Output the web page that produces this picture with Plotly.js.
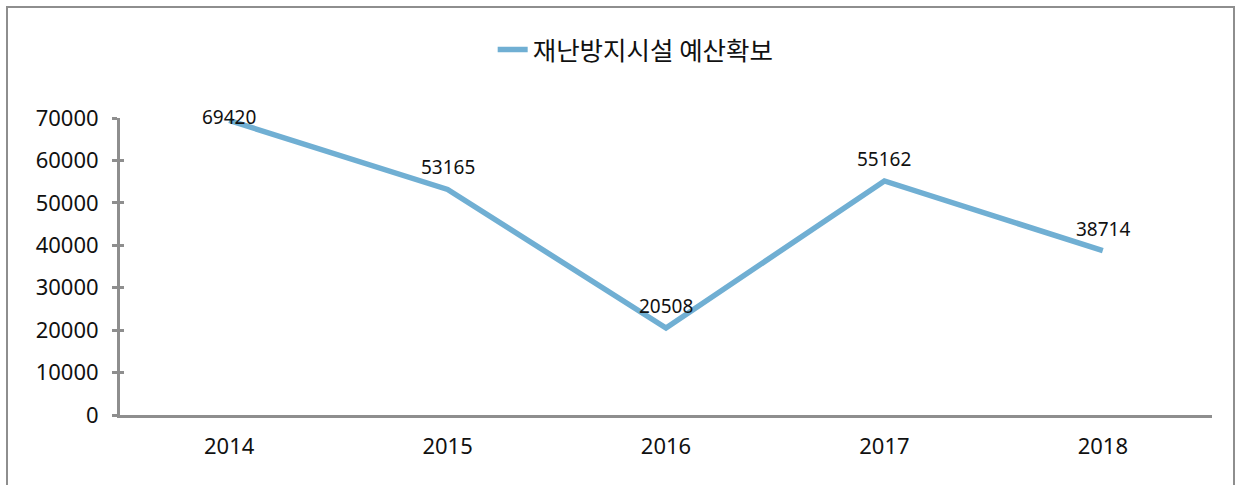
<!DOCTYPE html>
<html>
<head>
<meta charset="utf-8">
<script src="https://cdn.plot.ly/plotly-3.0.1.min.js"></script>
<style>
  html, body { margin: 0; padding: 0; background: #ffffff; overflow: hidden; }
  #chart { width: 1241px; height: 485px; position: absolute; left: 0; top: 0; }
  #frame { position: absolute; left: 6px; top: 6px; width: 1229px; height: 500px;
           border: 2px solid #8e8e8e; box-sizing: border-box; pointer-events: none; }
</style>
</head>
<body>
<div id="chart"></div>
<div id="frame"></div>
<script>
const years = ['2014', '2015', '2016', '2017', '2018'];
const budget = [69420, 53165, 20508, 55162, 38714];
const seriesName = '재난방지시설 예산확보';
const yTicks = [0, 10000, 20000, 30000, 40000, 50000, 60000, 70000];

const FONT = '"Noto Sans", "Noto Sans CJK KR", sans-serif';
const lineColor = '#70afd3';
const axisColor = '#8e8e8e';

const labelShift = [3, 22, 22, 22, 22];

const trace = {
  type: 'scatter',
  mode: 'lines',
  x: years,
  y: budget,
  name: seriesName,
  line: { color: lineColor, width: 5.5 },
  hoverinfo: 'x+y'
};

// invisible companion trace so the overlay axis (inner tick halves) is drawn
const tickHelper = {
  type: 'scatter',
  mode: 'lines',
  x: years,
  y: budget,
  yaxis: 'y2',
  showlegend: false,
  hoverinfo: 'skip',
  opacity: 0,
  line: { width: 0 }
};

// category axis: annotation x given as category serial number
const annotations = years.map((yr, i) => ({
  x: i,
  y: budget[i],
  xref: 'x',
  yref: 'y',
  text: String(budget[i]),
  showarrow: false,
  yshift: labelShift[i],
  font: { family: FONT, size: 19, color: '#111111' }
}));

const layout = {
  width: 1241,
  height: 485,
  paper_bgcolor: '#ffffff',
  plot_bgcolor: '#ffffff',
  margin: { l: 120, r: 29, t: 118, b: 70, pad: 0 },
  font: { family: FONT, color: '#111111' },
  showlegend: true,
  legend: {
    orientation: 'h',
    xref: 'container',
    yref: 'container',
    x: 0.397,
    xanchor: 'left',
    y: 1 - 50 / 485,
    yanchor: 'middle',
    font: { family: '"Noto Sans CJK KR", "Noto Sans", sans-serif', size: 25.5, color: '#111111' },
    itemwidth: 30,
    bgcolor: 'rgba(0,0,0,0)'
  },
  xaxis: {
    type: 'category',
    range: [-0.5, years.length - 0.5],
    showgrid: false,
    zeroline: false,
    showline: true,
    linecolor: axisColor,
    linewidth: 3,
    ticks: '',
    tickfont: { family: FONT, size: 22, color: '#111111' },
    ticklabelstandoff: 10
  },
  yaxis: {
    range: [0, 70000],
    tickvals: yTicks,
    ticktext: yTicks.map(String),
    showgrid: false,
    zeroline: false,
    showline: true,
    linecolor: axisColor,
    linewidth: 3,
    ticks: 'outside',
    ticklen: 5,
    tickwidth: 3,
    tickcolor: axisColor,
    tickfont: { family: FONT, size: 22, color: '#111111' },
    ticklabelstandoff: 9
  },
  yaxis2: {
    overlaying: 'y',
    side: 'left',
    range: [0, 70000],
    tickvals: yTicks,
    showticklabels: false,
    showgrid: false,
    zeroline: false,
    showline: false,
    ticks: 'inside',
    ticklen: 4,
    tickwidth: 3,
    tickcolor: axisColor
  },
  annotations: annotations
};

Plotly.newPlot('chart', [tickHelper, trace], layout, { displayModeBar: false, staticPlot: true });
</script>
</body>
</html>
